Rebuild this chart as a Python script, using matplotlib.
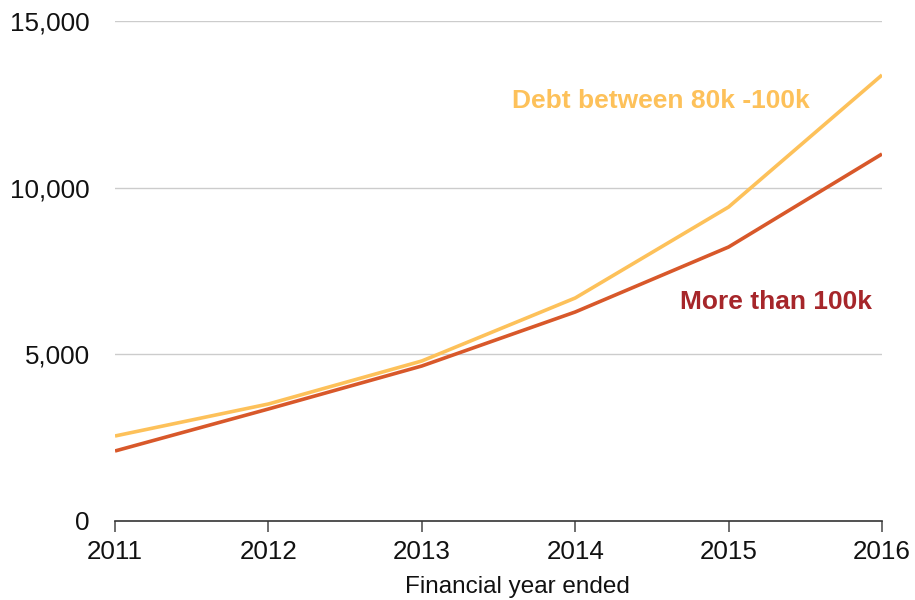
import matplotlib
matplotlib.use("Agg")
import matplotlib.pyplot as plt
from matplotlib.ticker import FuncFormatter

plt.rcParams["font.family"] = ["Liberation Sans", "DejaVu Sans"]

years = [2011, 2012, 2013, 2014, 2015, 2016]
debt_80k_100k = [2550, 3510, 4800, 6690, 9420, 13380]
more_than_100k = [2100, 3360, 4650, 6270, 8220, 11010]

YELLOW = "#FDC15A"
ORANGE = "#D8582A"
LABEL_RED = "#A6262A"

fig = plt.figure(figsize=(9.15, 6.0), dpi=100)
ax = fig.add_axes([115 / 915, 1 - 521 / 600, (882 - 115) / 915, (521 - 21) / 600])

ax.plot(years, debt_80k_100k, color=YELLOW, lw=2.6, solid_capstyle="butt", zorder=3)
ax.plot(years, more_than_100k, color=ORANGE, lw=2.6, solid_capstyle="butt", zorder=4)

ax.set_xlim(2011, 2016)
ax.set_ylim(0, 15000)
ax.set_yticks([0, 5000, 10000, 15000])
ax.set_xticks(years)
ax.yaxis.set_major_formatter(FuncFormatter(lambda v, _: f"{int(v):,}"))

for y in [5000, 10000, 15000]:
    ax.axhline(y, color="#cccccc", lw=1.0, zorder=1)

for s in ["top", "right", "left"]:
    ax.spines[s].set_visible(False)
ax.spines["bottom"].set_color("#333333")
ax.spines["bottom"].set_linewidth(1.2)

ax.tick_params(axis="y", length=0, pad=18, labelsize=18.7, labelcolor="#111111")
ax.tick_params(axis="x", length=8, width=1.2, color="#555555", pad=6,
               labelsize=18.7, labelcolor="#111111")
ax.set_xlabel("Financial year ended", fontsize=17.5, labelpad=8, color="#111111")
ax.xaxis.label.set_x(0.525)

ax.text(2013.59, 12600, "Debt between 80k -100k", color=YELLOW, fontsize=19,
        fontweight="bold", va="center", ha="left")
ax.text(2014.68, 6570, "More than 100k", color=LABEL_RED, fontsize=19,
        fontweight="bold", va="center", ha="left")

fig.savefig("out.png", dpi=100)
